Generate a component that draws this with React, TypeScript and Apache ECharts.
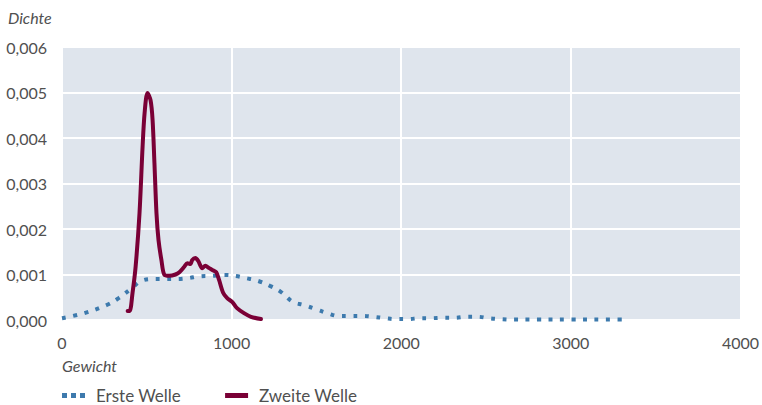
import React, { useEffect, useRef } from "react";
import * as echarts from "echarts";

const ersteX = [0, 130, 264, 334, 405, 469, 545, 610, 680, 745, 809, 880, 950, 1020, 1085, 1155, 1226, 1290, 1361, 1425, 1496, 1566, 1630, 1700, 1771, 1836, 1906, 1970, 2041, 2111, 2176, 2246, 2317, 2381, 2452, 2516, 2587, 2657, 2800, 3000, 3200, 3330];
const ersteY = [0.00004, 0.00015, 0.00033, 0.00048, 0.00068, 0.00086, 0.0009, 0.0009, 0.0009, 0.00092, 0.00096, 0.00097, 0.00099, 0.00097, 0.00092, 0.00086, 0.00075, 0.00062, 0.0004, 0.00033, 0.00024, 0.00015, 0.00009, 0.00009, 0.00009, 0.00007, 0.00004, 0.00002, 0.00002, 0.00004, 0.00004, 0.00005, 0.00005, 0.00007, 0.00007, 0.00004, 0.00002, 0.00001, 0.00001, 0.00001, 0.00001, 0.00001];

const zweiteX = [387, 399, 416, 434, 457, 475, 487, 504, 522, 534, 545, 557, 569, 586, 604, 633, 669, 692, 721, 739, 757, 768, 786, 803, 827, 845, 868, 886, 909, 926, 950, 974, 1003, 1032, 1073, 1114, 1173];
const zweiteY = [0.0002, 0.0002, 0.0006, 0.00117, 0.00235, 0.0038, 0.00455, 0.00499, 0.00483, 0.0044, 0.00345, 0.00235, 0.00176, 0.00132, 0.00099, 0.00097, 0.001, 0.00105, 0.00117, 0.00125, 0.00123, 0.00132, 0.00136, 0.0013, 0.00114, 0.00119, 0.00114, 0.0011, 0.00105, 0.00088, 0.0006, 0.00048, 0.0004, 0.00026, 0.00015, 0.00007, 0.00002];

const seriesNames = ["Erste Welle", "Zweite Welle"];
const xTicks = [0, 1000, 2000, 3000, 4000];
const yTicks = [0, 0.001, 0.002, 0.003, 0.004, 0.005, 0.006];

const FONT = "Lato, 'Open Sans', sans-serif";
const TEXT = "#505050";
const BLUE = "#3d7aad";
const RED = "#7a0036";

export default function App() {
  const ref = useRef<HTMLDivElement>(null);
  useEffect(() => {
    if (!ref.current) return;
    const chart = echarts.init(ref.current, null, { renderer: "svg" });
    chart.setOption({
      animation: false,
      textStyle: { fontFamily: FONT },
      grid: { left: 62, right: 18, top: 47, bottom: 85, show: true, backgroundColor: "#dfe5ed", borderWidth: 0 },
      xAxis: {
        type: "value",
        min: xTicks[0],
        max: xTicks[xTicks.length - 1],
        interval: 1000,
        axisLine: { show: false },
        axisTick: { show: false },
        splitLine: { show: true, lineStyle: { color: "#ffffff", width: 2 } },
        axisLabel: { color: TEXT, fontSize: 16, margin: 14, fontFamily: FONT, formatter: (v: number) => String(v) },
      },
      yAxis: {
        type: "value",
        min: yTicks[0],
        max: yTicks[yTicks.length - 1],
        interval: 0.001,
        axisLine: { show: false },
        axisTick: { show: false },
        splitLine: { show: true, lineStyle: { color: "#ffffff", width: 2 } },
        axisLabel: {
          color: TEXT,
          fontSize: 16,
          margin: 15,
          fontFamily: FONT,
          formatter: (v: number) => v.toFixed(3).replace(".", ","),
        },
      },
      legend: {
        left: 62,
        top: 387,
        padding: 0,
        itemWidth: 23,
        itemHeight: 5,
        itemGap: 44,
        textStyle: { color: TEXT, fontSize: 17, fontFamily: FONT, padding: [0, 0, 0, 6] },
        data: [
          { name: seriesNames[0], icon: "path://M0,0h5v5h-5z M9,0h5v5h-5z M18,0h5v5h-5z", itemStyle: { color: BLUE } },
          { name: seriesNames[1], icon: "path://M0,0h23v5h-23z", itemStyle: { color: RED } },
        ],
      },
      graphic: [
        { type: "text", left: 8, top: 9, style: { text: "Dichte", fontSize: 16, fontStyle: "italic", fontFamily: FONT, fill: TEXT } },
        { type: "text", left: 62, top: 357, style: { text: "Gewicht", fontSize: 16, fontStyle: "italic", fontFamily: FONT, fill: TEXT } },
      ],
      series: [
        {
          name: seriesNames[0],
          type: "line",
          data: ersteX.map((x, i) => [x, ersteY[i]]),
          smooth: 0.4,
          showSymbol: false,
          symbol: "none",
          lineStyle: { color: BLUE, width: 4, type: [4, 7.5], cap: "butt" },
          itemStyle: { color: BLUE },
        },
        {
          name: seriesNames[1],
          type: "line",
          data: zweiteX.map((x, i) => [x, zweiteY[i]]),
          smooth: 0.3,
          showSymbol: false,
          symbol: "none",
          lineStyle: { color: RED, width: 4, cap: "round", join: "round" },
          itemStyle: { color: RED },
        },
      ],
    });
    return () => chart.dispose();
  }, []);
  return <div ref={ref} style={{ width: 762, height: 405, position: "absolute", left: 0, top: 0 }} />;
}
